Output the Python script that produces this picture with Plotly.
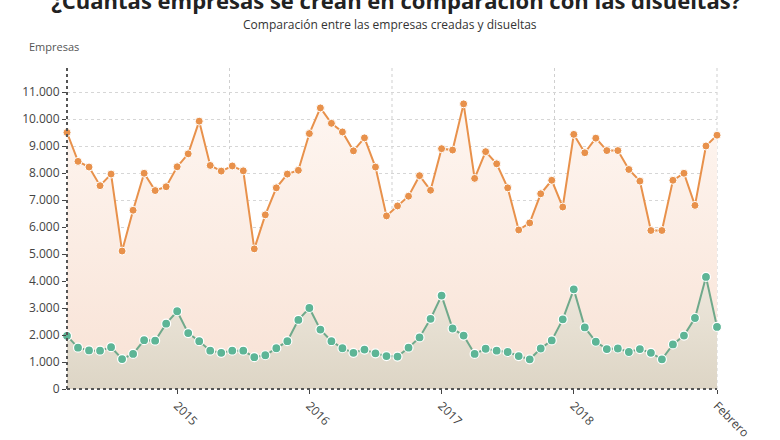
import plotly.graph_objects as go

# Monthly data, March 2014 .. February 2019 (60 months)
creadas = [9500, 8430, 8220, 7530, 7960, 5110, 6620, 7990, 7350, 7490,
           8230, 8710, 9920, 8280, 8070, 8260, 8080, 5190, 6450, 7450,
           7960, 8100, 9460, 10410, 9840, 9520, 8820, 9300, 8220, 6410,
           6780, 7140, 7900, 7360, 8900, 8850, 10560, 7800, 8790, 8340,
           7450, 5890, 6150, 7230, 7730, 6740, 9430, 8750, 9290, 8830,
           8830, 8130, 7700, 5870, 5870, 7730, 7990, 6800, 9000, 9400]
disueltas = [1970, 1530, 1430, 1420, 1550, 1110, 1300, 1810, 1790, 2420,
             2880, 2070, 1770, 1420, 1340, 1420, 1420, 1180, 1250, 1510,
             1770, 2560, 3000, 2200, 1770, 1510, 1340, 1460, 1320, 1220,
             1200, 1530, 1910, 2600, 3460, 2240, 1980, 1300, 1490, 1420,
             1370, 1220, 1100, 1500, 1800, 2580, 3690, 2280, 1750, 1480,
             1500, 1370, 1480, 1340, 1100, 1650, 1980, 2630, 4150, 2300]
x_idx = list(range(len(creadas)))
tick_pos = [10, 22, 34, 46, 59]
tick_text = ["2015", "2016", "2017", "2018", "Febrero"]
y_ticks = list(range(0, 11001, 1000))

fig = go.Figure()
fig.add_trace(go.Scatter(
    x=x_idx, y=creadas, mode="lines+markers", fill="tozeroy",
    fillgradient=dict(type="vertical", start=0, stop=10600,
                      colorscale=[[0, "#F8E2D5"], [1, "#FEF6F1"]]),
    line=dict(color="#E8914B", width=2),
    marker=dict(color="#E8914B", size=8, line=dict(color="#FFFFFF", width=1)),
    cliponaxis=False, showlegend=False, hoverinfo="skip"))
fig.add_trace(go.Scatter(
    x=x_idx, y=disueltas, mode="lines+markers", fill="tozeroy",
    fillgradient=dict(type="vertical", start=0, stop=4200,
                      colorscale=[[0, "#DDD5C5"], [1, "#EEE8DD"]]),
    line=dict(color="#6FA98B", width=2),
    marker=dict(color="#5DB596", size=9, line=dict(color="#FFFFFF", width=1.2)),
    cliponaxis=False, showlegend=False, hoverinfo="skip"))

# vertical dotted grid lines
for f in [0.25, 0.5, 0.75, 1.0]:
    fig.add_shape(type="line", xref="x domain", yref="y domain",
                  x0=f, x1=f, y0=0, y1=1,
                  line=dict(color="#CFCFCF", width=1, dash="dot"), layer="below")
# dotted axis lines
fig.add_shape(type="line", xref="x domain", yref="y domain", x0=0, x1=0, y0=0, y1=1,
              line=dict(color="#555555", width=2, dash="dot"), layer="above")
fig.add_shape(type="line", xref="x domain", yref="y domain", x0=0, x1=1, y0=0, y1=0,
              line=dict(color="#555555", width=2, dash="dot"), layer="above")

fig.update_xaxes(range=[0, 59], tickvals=tick_pos, ticktext=tick_text, tickangle=45,
                 showgrid=False, zeroline=False, showline=False, automargin=False,
                 ticks="outside", ticklen=4, tickcolor="#444444",
                 tickfont=dict(family="Open Sans", size=12, color="#444444"))
fig.update_yaxes(range=[0, 12000], tickvals=y_ticks, tickformat=",d",
                 showgrid=True, gridcolor="#D6D6D6", griddash="dot", gridwidth=1,
                 zeroline=False, showline=False, automargin=False,
                 ticks="outside", ticklen=4, tickcolor="#444444",
                 tickfont=dict(family="Open Sans", size=12, color="#444444"))

H_plot = 440 - 65 - 51
W_plot = 780 - 67 - 63

fig.update_layout(
    width=780, height=440, separators=",.",
    margin=dict(l=67, r=63, t=65, b=51, autoexpand=False),
    paper_bgcolor="#FFFFFF", plot_bgcolor="#FFFFFF",
    title=dict(text="<b>¿Cuántas empresas se crean en comparación con las disueltas?</b>",
               x=0.508, xanchor="center", y=1 - 9 / 440, yanchor="bottom",
               font=dict(family="Open Sans", size=22, color="#222222")),
    annotations=[
        dict(text="Comparación entre las empresas creadas y disueltas",
             xref="paper", yref="paper", x=(390 - 67) / W_plot, y=(389 - 25) / H_plot,
             xanchor="center", yanchor="middle", showarrow=False,
             font=dict(family="Open Sans", size=12, color="#333333")),
        dict(text="Empresas", xref="paper", yref="paper",
             x=(27 - 67) / W_plot, y=(389 - 47) / H_plot,
             xanchor="left", yanchor="middle", showarrow=False,
             font=dict(family="Open Sans", size=11, color="#555555")),
    ],
)

fig.write_html("out.html")
